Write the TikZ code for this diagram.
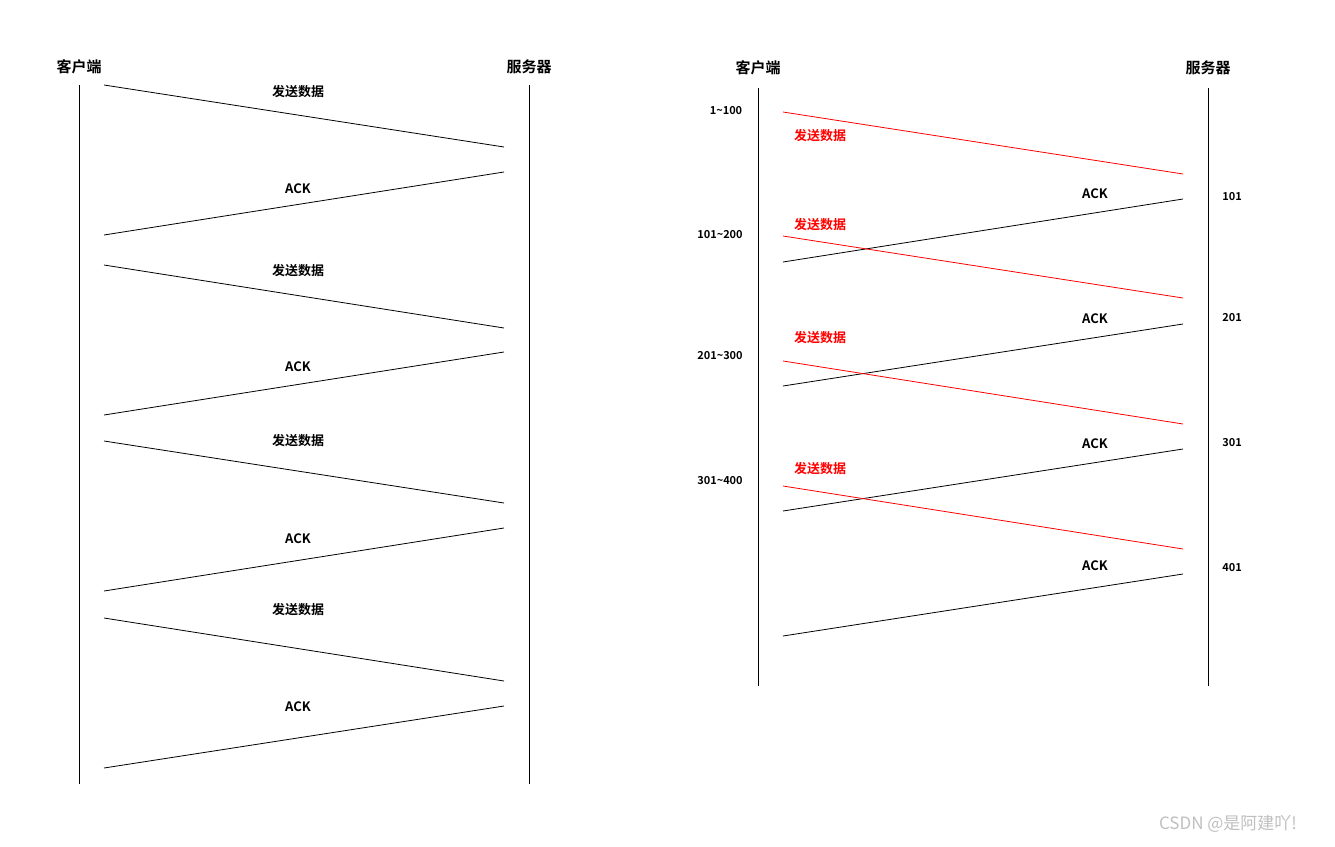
\documentclass[tikz,border=0pt]{standalone}
\usepackage{fontspec}
\setmainfont{Noto Sans CJK SC}[BoldFont={Noto Sans CJK SC Bold}]
\usetikzlibrary{positioning}
\tikzset{
    % styles for the two sequence diagrams
    title/.style = {font=\bfseries\fontsize{15}{18}\selectfont, inner sep=0pt},
    msg/.style = {font=\bfseries\fontsize{13}{16}\selectfont, inner sep=0pt},
    num/.style = {font=\bfseries\fontsize{11}{13}\selectfont, inner sep=0pt},
    life/.style = {line width=1pt, black},
    sendline/.style = {line width=0.8pt, red},
    ackline/.style = {line width=0.8pt, black}
}
\begin{document}
\begin{tikzpicture}[x=1pt, y=-1pt]
\useasboundingbox (0,0) rectangle (1335,846);

% Left diagram
\node[title] (client_l) at (79,67) {客户端};
\node[title] (server_l) at (529,67) {服务器};
\coordinate (cl_top) at (79,85); \coordinate (cl_bot) at (79,784);
\coordinate (sl_top) at (529,85); \coordinate (sl_bot) at (529,784);
\draw[life] (cl_top) -- (cl_bot);
\draw[life] (sl_top) -- (sl_bot);

\foreach \i/\ya/\yb/\yc/\yd/\ys/\yk in {1/85/147/172/235/92/189, 2/265/328/352/415/271/367, 3/441/503/528/591/441/539, 4/618/681/706/768/610/707} {
    \coordinate (ls\i a) at (104,\ya); \coordinate (ls\i b) at (504,\yb);
    \coordinate (la\i a) at (504,\yc); \coordinate (la\i b) at (104,\yd);
    \draw[ackline] (ls\i a) -- (ls\i b);
    \draw[ackline] (la\i a) -- (la\i b);
    \node[msg] (lsend\i) at (298,\ys) {发送数据};
    \node[msg] (lack\i) at (298,\yk) {ACK};
}

% Right diagram
\node[title] (client_r) at (758,68) {客户端};
\node[title] (server_r) at (1208,68) {服务器};
\coordinate (cr_top) at (758,88); \coordinate (cr_bot) at (758,686);
\coordinate (sr_top) at (1208,88); \coordinate (sr_bot) at (1208,686);
\draw[life] (cr_top) -- (cr_bot);
\draw[life] (sr_top) -- (sr_bot);

\foreach \i/\ya/\yb/\yc/\yd/\ys/\yk/\lo/\hi/\xr/\yr/\seq/\yq in {1/112/174/199/262/136/194/1/100/726/111/101/197, 2/236/298/324/386/225/319/101/200/720/235/201/318, 3/361/424/449/511/338/444/201/300/720/356/301/443, 4/486/549/574/636/469/566/301/400/720/481/401/568} {
    \coordinate (rs\i a) at (783,\ya); \coordinate (rs\i b) at (1183,\yb);
    \coordinate (ra\i a) at (1183,\yc); \coordinate (ra\i b) at (783,\yd);
    \draw[sendline] (rs\i a) -- (rs\i b);
    \draw[ackline] (ra\i a) -- (ra\i b);
    \node[msg, red] (rsend\i) at (820,\ys) {发送数据};
    \node[msg] (rack\i) at (1095,\yk) {ACK};
    \node[num] (range\i) at (\xr,\yr) {\lo\textasciitilde\hi};
    \node[num] (seq\i) at (1232,\yq) {\seq};
}

% watermark
\node[font=\fontsize{17}{20}\selectfont, text=black!25, inner sep=0pt] (mark) at (1228,824) {CSDN @是阿建吖!};
\end{tikzpicture}
\end{document}
